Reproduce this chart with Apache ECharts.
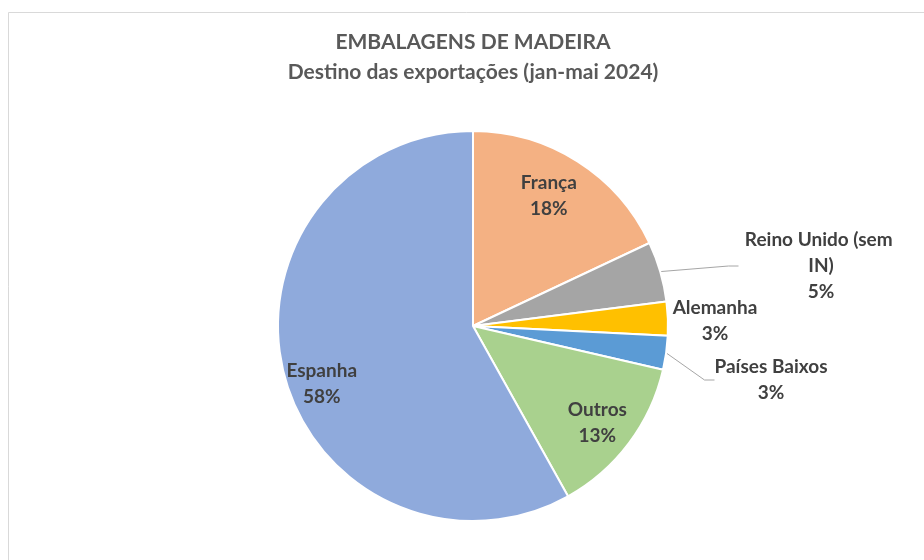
<!DOCTYPE html>
<html>
<head>
<meta charset="utf-8">
<script src="https://cdn.jsdelivr.net/npm/echarts@6/dist/echarts.min.js"></script>
<style>
  html, body { margin: 0; padding: 0; background: #fff; }
</style>
</head>
<body>
<div id="chart" style="width: 924px;height: 560px"></div>
<script>
// dados (% das exportações)
var destinos = ['França', 'Reino Unido (sem IN)', 'Alemanha', 'Países Baixos', 'Outros', 'Espanha']
var valores = [18.0, 5.0, 2.8, 2.8, 13.3, 58.1]
var cores = ['#F4B183', '#A5A5A5', '#FFC000', '#5B9BD5', '#A9D18E', '#8FAADC']
var titulo = 'EMBALAGENS DE MADEIRA'
var subtitulo = 'Destino das exportações (jan-mai 2024)'

// ajustes das etiquetas (deslocamento a partir da posição por omissão)
var ajusteEtiquetas = {
  0: { dx: 22, dy: -45 },
  1: { x: 821, y: 266 },
  2: { x: 715, y: 321 },
  3: { x: 771, y: 380 },
  4: { dx: 44, dy: 37 },
  5: { dx: -54, dy: 33 }
}
var fora = [1, 2, 3]

var dados = destinos.map(function (nome, i) {
  var item = { name: nome, value: valores[i], itemStyle: { color: cores[i] } }
  if (fora.indexOf(i) >= 0) {
    item.label = { position: 'outside' }
    item.labelLine = { show: i !== 2 }
  }
  if (i === 1) {
    item.label.width = 165
    item.label.overflow = 'break'
  }
  return item
})

var chart = echarts.init(document.getElementById('chart'))
var option = {
  backgroundColor: '#fff',
  animation: false,
  graphic: [
    {
      type: 'rect',
      shape: { x: 8.5, y: 12.5, width: 1000, height: 1000 },
      style: { fill: 'none', stroke: '#d9d9d9', lineWidth: 1 }
    },
    {
      type: 'text',
      x: 473, y: 42,
      style: {
        text: titulo, align: 'center', verticalAlign: 'middle',
        font: 'bold 21px Lato', fill: '#595959'
      }
    },
    {
      type: 'text',
      x: 473, y: 72,
      style: {
        text: subtitulo, align: 'center', verticalAlign: 'middle',
        font: 'bold 21px Lato', fill: '#595959'
      }
    }
  ],
  series: [{
    type: 'pie',
    center: [473, 326],
    radius: 195,
    startAngle: 90,
    clockwise: true,
    avoidLabelOverlap: false,
    itemStyle: { borderColor: '#fff', borderWidth: 2 },
    label: {
      show: true,
      position: 'inside',
      formatter: function (p) { return p.name + '\n' + Math.round(p.value) + '%' },
      fontFamily: 'Lato',
      fontWeight: 'bold',
      fontSize: 19,
      lineHeight: 26,
      color: '#404040',
      align: 'center'
    },
    labelLine: {
      show: true,
      length: 20,
      length2: 10,
      lineStyle: { color: '#a6a6a6', width: 1 }
    },
    labelLayout: function (params) {
      var a = ajusteEtiquetas[params.dataIndex]
      if (a.x !== undefined) {
        return { x: a.x, y: a.y, align: 'center', verticalAlign: 'middle' }
      }
      return { dx: a.dx, dy: a.dy }
    },
    data: dados
  }]
}
chart.setOption(option)
</script>
</body>
</html>
